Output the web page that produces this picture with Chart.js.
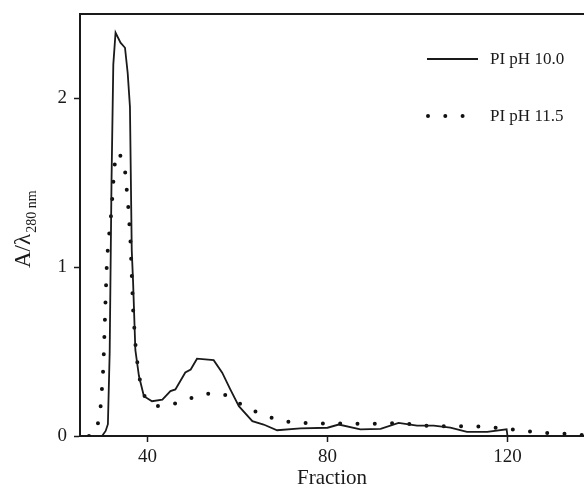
<!DOCTYPE html>
<html>
<head>
<meta charset="utf-8">
<script src="https://cdn.jsdelivr.net/npm/chart.js@4"></script>
<style>
  html, body { margin: 0; padding: 0; background: #fff; }
  #wrap { width: 584px; height: 486px; }
</style>
</head>
<body>
<div id="wrap"><canvas id="chart"></canvas></div>
<script>
// PI pH 10.0 (solid) - fraction / absorbance
var solidX = [29.9, 30.7, 31.2, 31.6, 32.0, 32.4, 32.9, 34.0, 35.0, 35.6, 36.1, 36.5, 36.8, 37.3, 38.1, 39.2, 41.0, 43.3, 45.1, 46.2, 48.4, 49.6, 51.0, 54.7, 56.6, 58.4, 60.3, 63.3, 65.8, 68.8, 74.0, 80.0, 82.5, 87.3, 91.8, 95.8, 99.9, 103.6, 107.3, 111.0, 115.5, 119.8, 120.0];
var solidY = [0.00, 0.03, 0.07, 0.50, 1.50, 2.20, 2.39, 2.33, 2.30, 2.15, 1.95, 1.10, 0.91, 0.51, 0.355, 0.236, 0.206, 0.216, 0.266, 0.276, 0.376, 0.394, 0.458, 0.449, 0.375, 0.276, 0.177, 0.088, 0.068, 0.034, 0.045, 0.049, 0.068, 0.039, 0.042, 0.078, 0.062, 0.062, 0.049, 0.025, 0.025, 0.04, 0.00];

// PI pH 11.5 (dotted)
var dotX = [27.0, 28.3, 29.3, 29.7, 30.2, 30.7, 31.0, 31.5, 32.0, 32.5, 32.9, 33.7, 34.5, 35.0, 35.7, 36.2, 36.5, 36.8, 37.3, 37.7, 38.2, 39.2, 40.5, 42.2, 46.0, 49.9, 53.8, 55.5, 57.7, 61.4, 65.3, 69.2, 73.0, 80.0, 92.0, 96.2, 100.2, 104.0, 111.6, 115.5, 119.2, 123.0, 127.0, 131.0, 134.5, 137.0];
var dotY = [0.00, 0.013, 0.104, 0.206, 0.414, 0.823, 1.05, 1.20, 1.337, 1.544, 1.66, 1.68, 1.62, 1.574, 1.368, 1.165, 0.957, 0.75, 0.547, 0.443, 0.345, 0.242, 0.20, 0.177, 0.191, 0.226, 0.252, 0.255, 0.24, 0.177, 0.129, 0.094, 0.078, 0.074, 0.072, 0.078, 0.064, 0.058, 0.058, 0.054, 0.044, 0.034, 0.019, 0.017, 0.009, 0.005];

var seriesLabels = ["PI pH 10.0", "PI pH 11.5"];
var xTicks = [40, 80, 120];
var yTicks = [0, 1, 2];

function pairs(xs, ys) {
    var out = [];
    for (var i = 0; i < xs.length; ++i) out.push({x: xs[i], y: ys[i]});
    return out;
}

var serif = "'Liberation Serif', 'DejaVu Serif', serif";
var ink = '#1a1a1a';

// top frame line, y title with subscript, legend
var decor = {
    id: 'decor',
    afterDraw: function(chart) {
        var ctx = chart.ctx;
        var area = chart.chartArea;
        ctx.save();
        ctx.strokeStyle = ink;
        ctx.lineWidth = 2;
        ctx.beginPath();
        ctx.moveTo(area.left - 1, area.top);
        ctx.lineTo(chart.width, area.top);
        ctx.stroke();

        // y axis title  A/λ with 280 nm subscript
        ctx.fillStyle = ink;
        ctx.translate(30, 268);
        ctx.rotate(-Math.PI / 2);
        ctx.textAlign = 'left';
        ctx.textBaseline = 'alphabetic';
        ctx.font = "23px " + serif;
        ctx.fillText("A/\u03bb", 0, 0);
        var w = ctx.measureText("A/\u03bb").width;
        ctx.font = "14px " + serif;
        ctx.fillText("280 nm", w + 1, 5.5);
        ctx.restore();

        // legend
        var ds = chart.data.datasets;
        var rows = [59, 116];
        ctx.save();
        ctx.font = "17px " + serif;
        ctx.fillStyle = ink;
        ctx.textBaseline = 'middle';
        for (var i = 0; i < ds.length; ++i) {
            ctx.strokeStyle = ds[i].borderColor;
            ctx.lineWidth = ds[i].borderWidth;
            ctx.lineCap = ds[i].borderCapStyle || 'butt';
            ctx.setLineDash(ds[i].borderDash || []);
            ctx.beginPath();
            if (ds[i].borderDash) {
                ctx.moveTo(428, rows[i]);
                ctx.lineTo(466, rows[i]);
            } else {
                ctx.moveTo(427, rows[i]);
                ctx.lineTo(478, rows[i]);
            }
            ctx.stroke();
            ctx.setLineDash([]);
            ctx.fillText(ds[i].label, 490, rows[i] + 1);
        }
        ctx.restore();
    }
};

var config = {
    type: 'line',
    data: {
        datasets: [{
            label: seriesLabels[0],
            data: pairs(solidX, solidY),
            borderColor: ink,
            borderWidth: 1.8,
            pointRadius: 0,
            tension: 0,
            fill: false
        }, {
            label: seriesLabels[1],
            data: pairs(dotX, dotY),
            borderColor: '#111',
            borderWidth: 4,
            borderDash: [0, 17.3],
            borderCapStyle: 'round',
            pointRadius: 0,
            tension: 0,
            fill: false
        }]
    },
    options: {
        responsive: true,
        maintainAspectRatio: false,
        animation: false,
        layout: {padding: {top: 14, right: 0, bottom: 0, left: 0}},
        plugins: {
            legend: {display: false},
            tooltip: {enabled: false}
        },
        scales: {
            x: {
                type: 'linear',
                min: 25,
                max: 137,
                afterBuildTicks: function(scale) {
                    scale.ticks = xTicks.map(function(v) { return {value: v}; });
                },
                afterFit: function(scale) { scale.height = 50; },
                grid: {display: true, drawOnChartArea: false, drawTicks: true, tickLength: 6, color: ink, tickWidth: 1.5},
                border: {display: true, color: ink, width: 2},
                ticks: {color: ink, font: {family: serif, size: 19}, padding: 4, maxRotation: 0},
                title: {display: true, text: 'Fraction', color: ink, font: {family: serif, size: 21, lineHeight: 0.75}, padding: 0}
            },
            y: {
                min: 0,
                max: 2.5,
                afterBuildTicks: function(scale) {
                    scale.ticks = yTicks.map(function(v) { return {value: v}; });
                },
                afterFit: function(scale) {
                    scale.width = 80;
                    scale.paddingTop = 0;
                    scale.paddingBottom = 0;
                },
                grid: {display: true, drawOnChartArea: false, drawTicks: true, tickLength: 6, color: ink, tickWidth: 1.5},
                border: {display: true, color: ink, width: 2},
                ticks: {color: ink, font: {family: serif, size: 19}, padding: 7}
            }
        }
    },
    plugins: [decor]
};

new Chart(document.getElementById('chart'), config);
</script>
</body>
</html>
